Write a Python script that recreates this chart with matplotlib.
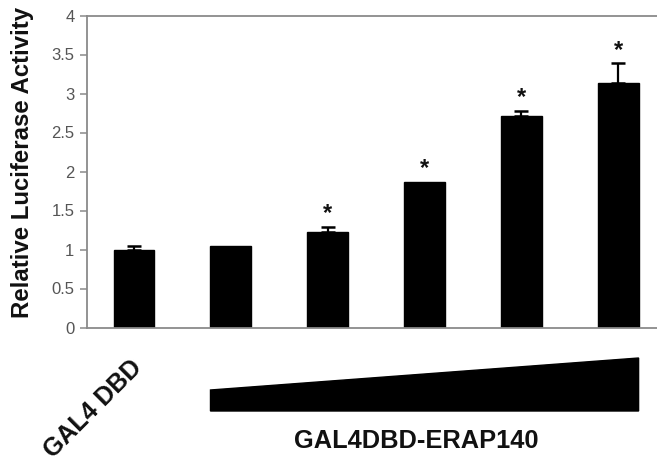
import matplotlib
matplotlib.use("Agg")
import matplotlib.pyplot as plt
import matplotlib.transforms as mtransforms
import numpy as np

plt.rcParams['font.family'] = ['Liberation Sans', 'DejaVu Sans']

# Data
categories = ["GAL4 DBD", "ERAP140 1", "ERAP140 2", "ERAP140 3", "ERAP140 4", "ERAP140 5"]
values = [1.00, 1.04, 1.23, 1.87, 2.71, 3.13]
err_upper = [0.05, 0.0, 0.06, 0.0, 0.07, 0.26]
significant = [False, False, True, True, True, True]
yticks = [0, 0.5, 1, 1.5, 2, 2.5, 3, 3.5, 4]
ytick_labels = ["0", "0.5", "1", "1.5", "2", "2.5", "3", "3.5", "4"]

W, H = 657, 463
fig = plt.figure(figsize=(W / 100, H / 100), dpi=100)
ax = fig.add_axes([87 / W, 1 - 327.5 / H, 1 - 87 / W, 312 / H])

x = np.arange(len(categories))
bar_w = 0.42
ax.bar(x, values, width=bar_w, color='black', edgecolor='black', zorder=2)

# upper-only error bars
has_err = [e > 0 for e in err_upper]
xe = x[has_err]
ve = np.array(values)[has_err]
ee = np.array(err_upper)[has_err]
ax.errorbar(xe, ve, yerr=[np.zeros_like(ee), ee], fmt='none', ecolor='black',
            elinewidth=1.6, capsize=4.8, capthick=1.8, zorder=3)

for xi, v, e, s in zip(x, values, err_upper, significant):
    if s:
        ax.annotate('*', xy=(xi, v + e), xytext=(0, 1), textcoords='offset points',
                    ha='center', va='bottom', fontsize=17, fontweight='bold', color='#111111')

ax.set_xlim(-0.485, 5.40)
ax.set_ylim(0, 4)
ax.set_yticks(yticks)
ax.set_yticklabels(ytick_labels)
ax.set_xticks([])

grey = '#8a8a8a'
for side in ['left', 'bottom', 'top']:
    ax.spines[side].set_color(grey)
    ax.spines[side].set_linewidth(1.3)
ax.spines['right'].set_visible(False)
ax.tick_params(axis='y', direction='out', length=5, width=1.1, color=grey,
               labelsize=12, labelcolor='#555555', pad=4)

fig.text(23 / W, 1 - 162 / H, "Relative Luciferase Activity", rotation=90,
         ha='center', va='center', fontsize=17.3, fontweight='bold', color='#111111')

fig.text(93 / W, 1 - 409 / H, "GAL4 DBD", rotation=45, ha='center', va='center',
         fontsize=18, fontweight='bold', color='#111111', rotation_mode='anchor')

# increasing-dose wedge under the ERAP140 bars
trans = mtransforms.blended_transform_factory(ax.transData, fig.transFigure)
x0 = x[1] - bar_w / 2
x1 = x[-1] + bar_w / 2
ax.fill([x0, x0, x1, x1], [1 - 411 / H, 1 - 390 / H, 1 - 358 / H, 1 - 411 / H],
        color='black', transform=trans, clip_on=False)

fig.text(416 / W, 1 - 448 / H, "GAL4DBD-ERAP140", ha='center', va='baseline',
         fontsize=18.3, fontweight='bold', color='#111111')

fig.savefig("out.png", dpi=100)
